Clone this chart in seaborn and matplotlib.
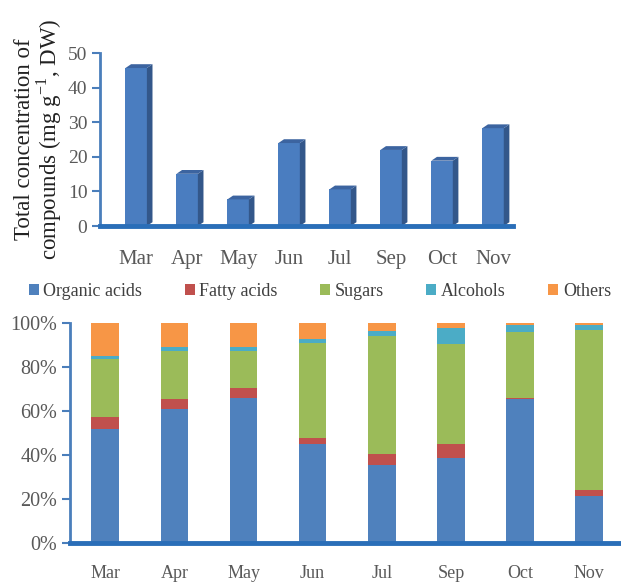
import matplotlib
matplotlib.use("Agg")
import matplotlib.pyplot as plt
from matplotlib.patches import Patch, Polygon
from matplotlib.ticker import FuncFormatter
import seaborn as sns

months = ["Mar", "Apr", "May", "Jun", "Jul", "Sep", "Oct", "Nov"]
total_conc = [45.7, 15.1, 7.7, 24.0, 10.6, 22.0, 18.9, 28.3]

series_names = ["Organic acids", "Fatty acids", "Sugars", "Alcohols", "Others"]
organic_acids = [51.8, 61.0, 66.0, 45.0, 35.5, 38.6, 65.3, 21.4]
fatty_acids = [5.5, 4.5, 4.5, 2.7, 5.0, 6.4, 0.5, 2.6]
sugars = [26.3, 21.8, 16.8, 43.3, 53.7, 45.5, 30.2, 72.8]
alcohols = [1.4, 1.7, 1.7, 1.7, 2.3, 7.1, 3.0, 2.2]
others = [15.0, 11.0, 11.0, 7.3, 3.5, 2.4, 1.0, 1.0]

colors = ["#4F81BD", "#C0504D", "#9BBB59", "#4BACC6", "#F79646"]
axis_blue = "#4A7EBB"
axis_dark = "#2A6EB8"
tick_gray = "#595959"

sns.set_theme(style="white")
plt.rcParams["font.family"] = ["Liberation Serif", "DejaVu Serif"]
plt.rcParams["mathtext.fontset"] = "custom"
plt.rcParams["mathtext.rm"] = "Liberation Serif"

fig = plt.figure(figsize=(6.21, 5.84), dpi=100)

# top: total concentration, pseudo-3D columns
ax1 = fig.add_axes([0.161, 0.613, 0.665, 0.296])
sns.barplot(x=months, y=total_conc, order=months, color="#4A7DC0",
            saturation=1, width=0.42, linewidth=0, ax=ax1)
dx, dy = 0.11, 1.1
for p in list(ax1.patches):
    x0, w, h = p.get_x(), p.get_width(), p.get_height()
    side = Polygon([(x0 + w, 0), (x0 + w + dx, dy), (x0 + w + dx, h + dy), (x0 + w, h)],
                   closed=True, facecolor="#33578A", edgecolor="none", zorder=p.get_zorder())
    top = Polygon([(x0, h), (x0 + dx, h + dy), (x0 + w + dx, h + dy), (x0 + w, h)],
                  closed=True, facecolor="#3C64A0", edgecolor="none", zorder=p.get_zorder())
    ax1.add_patch(side)
    ax1.add_patch(top)

ax1.set_xlim(-0.71, 7.39)
ax1.set_ylim(0, 50)
ax1.set_yticks(range(0, 51, 10))
ax1.set_xlabel("")
ax1.set_ylabel("Total concentration of\ncompounds (mg g$^{-1}$, DW)",
               fontsize=16.5, linespacing=0.95, labelpad=3, color="#222222")
for s in ["top", "right"]:
    ax1.spines[s].set_visible(False)
ax1.spines["left"].set_color(axis_blue)
ax1.spines["left"].set_linewidth(2)
ax1.spines["bottom"].set_color(axis_dark)
ax1.spines["bottom"].set_linewidth(3.5)
ax1.tick_params(axis="y", left=True, length=6, width=1.5, color=axis_blue,
                direction="out", labelsize=14, labelcolor=tick_gray, pad=3)
ax1.tick_params(axis="x", bottom=False, labelsize=15, labelcolor=tick_gray, pad=11)

# bottom: relative composition, stacked via cumulative overlays
ax2 = fig.add_axes([0.1127, 0.0702, 0.8873, 0.377])
layers = [organic_acids, fatty_acids, sugars, alcohols, others]
cum = []
run = [0.0] * len(months)
for layer in layers:
    run = [a + b for a, b in zip(run, layer)]
    cum.append(run)
for vals, c in reversed(list(zip(cum, colors))):
    sns.barplot(x=months, y=vals, order=months, color=c, saturation=1,
                width=0.4, linewidth=0, ax=ax2)

ax2.set_xlim(-0.51, 7.46)
ax2.set_ylim(0, 100)
ax2.set_yticks(range(0, 101, 20))
ax2.yaxis.set_major_formatter(FuncFormatter(lambda v, _: f"{v:.0f}%"))
ax2.set_xlabel("")
ax2.set_ylabel("")
for s in ["top", "right"]:
    ax2.spines[s].set_visible(False)
ax2.spines["left"].set_color(axis_blue)
ax2.spines["left"].set_linewidth(2)
ax2.spines["bottom"].set_color(axis_dark)
ax2.spines["bottom"].set_linewidth(3.5)
ax2.tick_params(axis="y", left=True, length=6, width=1.5, color=axis_blue,
                direction="out", labelsize=14.5, labelcolor=tick_gray, pad=3)
ax2.tick_params(axis="x", bottom=False, labelsize=13, labelcolor=tick_gray, pad=10)

handles = [Patch(facecolor=c, edgecolor="none") for c in colors]
leg = fig.legend(handles, series_names, loc="center", bbox_to_anchor=(0.02, 0.476, 0.99, 0.05),
                 mode="expand", ncol=5, frameon=False, handlelength=0.55, handleheight=0.55,
                 handletextpad=0.25, fontsize=13)
for t in leg.get_texts():
    t.set_color("#404040")

fig.savefig("out.png", dpi=100)
